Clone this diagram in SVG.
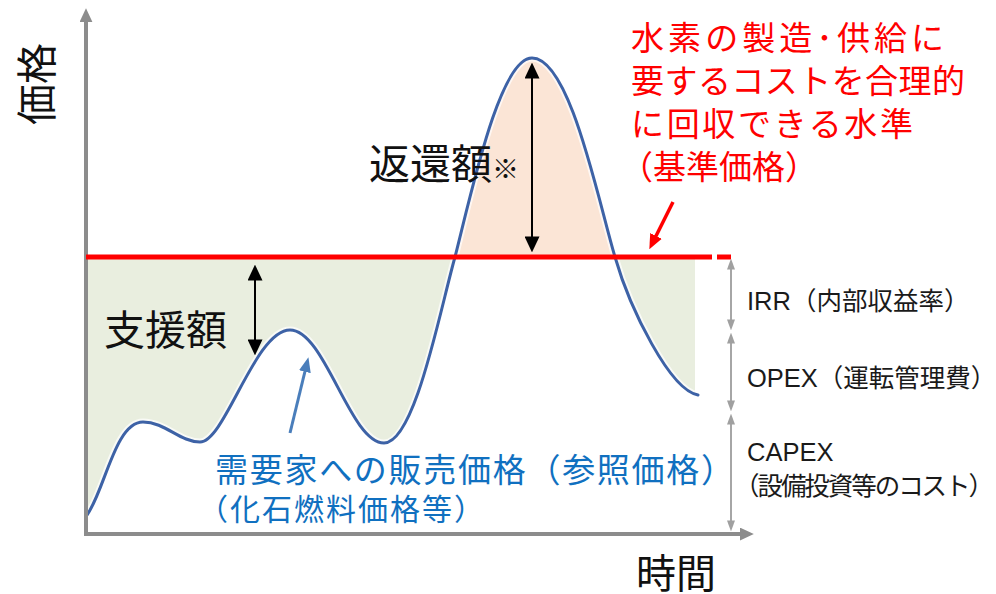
<svg xmlns="http://www.w3.org/2000/svg" width="996" height="594" viewBox="0 0 996 594">
<style>
  .cjk{font-family:"Noto Sans CJK JP","Noto Sans CJK SC",sans-serif}
  .lat{font-family:"Liberation Sans","Noto Sans CJK JP",sans-serif}
  .red{fill:#ff0000}
  .blue{fill:#1070c0}
  .blk{fill:#111111}
  .dim{fill:#1a1a1a;font-size:25.5px}
  .axis{stroke:#8c8c8c;stroke-width:4;fill:none}
  .dimline{stroke:#a6a6a6;stroke-width:2;fill:none;marker-start:url(#ga);marker-end:url(#ga)}
  .dbl{stroke:#000;stroke-width:2;fill:none;marker-start:url(#ba);marker-end:url(#ba)}
</style>
<defs>
  <marker id="ga" viewBox="0 0 10 10" refX="6" refY="5" markerWidth="11" markerHeight="8" markerUnits="userSpaceOnUse" orient="auto-start-reverse" preserveAspectRatio="none">
    <path d="M0,0 L10,5 L0,10 z" fill="#a0a0a0"/>
  </marker>
  <marker id="ba" viewBox="0 0 10 10" refX="6" refY="5" markerWidth="16" markerHeight="15" markerUnits="userSpaceOnUse" orient="auto-start-reverse" preserveAspectRatio="none">
    <path d="M0,0 L10,5 L0,10 z" fill="#000"/>
  </marker>
  <marker id="bluea" viewBox="0 0 10 10" refX="6" refY="5" markerWidth="15" markerHeight="12" markerUnits="userSpaceOnUse" orient="auto" preserveAspectRatio="none">
    <path d="M0,0 L10,5 L0,10 z" fill="#4a7ebb"/>
  </marker>
  <marker id="reda" viewBox="0 0 10 10" refX="6" refY="5" markerWidth="15" markerHeight="13" markerUnits="userSpaceOnUse" orient="auto" preserveAspectRatio="none">
    <path d="M0,0 L10,5 L0,10 z" fill="#ff0000"/>
  </marker>
  <marker id="axa" viewBox="0 0 10 10" refX="3" refY="5" markerWidth="14" markerHeight="13" markerUnits="userSpaceOnUse" orient="auto" preserveAspectRatio="none">
    <path d="M0,0 L10,5 L0,10 z" fill="#8c8c8c"/>
  </marker>
</defs>

<g id="areas">
  <path id="support-area" fill="#e9eedf" d="M86,515 L87,515 C105,490 115,422 143,422 C165,422 180,442 200,442 C225,442 255,330 290,330 C325,330 350,443 384,443 C415,443 440,310 455,257 L86,257 Z"/>
  <path id="support-area-right" fill="#e9eedf" d="M615,257 C630,309 670,390 698,395 L695,395 L695,257 Z"/>
  <path id="return-area" fill="#fbe5d6" d="M455,257 C472,190 500,58 532,58 C570,58 598,200 615,257 Z"/>
</g>

<g id="price-curve" fill="none" stroke-linecap="round">
  <path stroke="#ffffff" stroke-opacity="0.7" stroke-width="7" d="M87,515 C105,490 115,422 143,422 C165,422 180,442 200,442 C225,442 255,330 290,330 C325,330 350,443 384,443 C415,443 440,310 455,257 C472,190 500,58 532,58 C570,58 598,200 615,257 C630,309 670,390 698,395"/>
  <path stroke="#3d62a6" stroke-width="3" d="M87,515 C105,490 115,422 143,422 C165,422 180,442 200,442 C225,442 255,330 290,330 C325,330 350,443 384,443 C415,443 440,310 455,257 C472,190 500,58 532,58 C570,58 598,200 615,257 C630,309 670,390 698,395"/>
</g>

<g id="axes">
  <line class="axis" x1="86" y1="536" x2="86" y2="18" marker-end="url(#axa)"/>
  <line class="axis" x1="84" y1="534" x2="744" y2="534" marker-end="url(#axa)"/>
</g>

<g id="reference-price-line" stroke="#ff0000" stroke-width="5">
  <line x1="86" y1="257" x2="712" y2="257"/>
  <line x1="717" y1="257" x2="731" y2="257"/>
</g>

<g id="connectors">
  <line class="dimline" x1="731" y1="263" x2="731" y2="326"/>
  <line class="dimline" x1="731" y1="337" x2="731" y2="407"/>
  <line class="dimline" x1="731" y1="418" x2="731" y2="527"/>
  <line class="dbl" x1="532" y1="69" x2="532" y2="246"/>
  <line class="dbl" x1="255" y1="271" x2="255" y2="349"/>
  <line x1="290" y1="433" x2="307" y2="363" stroke="#4a7ebb" stroke-width="3" marker-end="url(#bluea)"/>
  <line x1="673" y1="202" x2="652" y2="244" stroke="#ff0000" stroke-width="3.5" marker-end="url(#reda)"/>
</g>

<g id="label-price-axis">
  <text class="cjk blk" font-size="41" text-anchor="middle" transform="translate(37,84) rotate(-90)" y="15">価格</text>
</g>
<g id="label-time-axis">
  <text class="cjk blk" font-size="40" x="636" y="588">時間</text>
</g>
<g id="label-support">
  <text class="cjk blk" font-size="41" x="104" y="345">支援額</text>
</g>
<g id="label-return">
  <text class="cjk blk" font-size="41" x="369" y="179">返還額<tspan font-size="27">※</tspan></text>
</g>
<g id="label-reference-price">
  <text class="cjk red" font-size="33" x="631" y="50" textLength="313" lengthAdjust="spacing">水素の製造･供給に</text>
  <text class="cjk red" font-size="33" x="631" y="93" textLength="334" lengthAdjust="spacing">要するコストを合理的</text>
  <text class="cjk red" font-size="33" x="631" y="136" textLength="282" lengthAdjust="spacing">に回収できる水準</text>
  <text class="cjk red" font-size="33" x="620" y="179">（基準価格）</text>
</g>
<g id="label-sales-price">
  <text class="cjk blue" font-size="33" x="215" y="482" textLength="519" lengthAdjust="spacing">需要家への販売価格（参照価格）</text>
  <text class="cjk blue" font-size="30" x="198" y="520" textLength="286" lengthAdjust="spacing">（化石燃料価格等）</text>
</g>
<g id="label-irr">
  <text class="lat dim" x="747" y="310">IRR（内部収益率）</text>
</g>
<g id="label-opex">
  <text class="lat dim" x="747" y="387">OPEX（運転管理費）</text>
</g>
<g id="label-capex">
  <text class="lat dim" x="747" y="461">CAPEX</text>
  <text class="lat dim" x="734" y="495" textLength="260" lengthAdjust="spacing">（設備投資等のコスト）</text>
</g>
</svg>
